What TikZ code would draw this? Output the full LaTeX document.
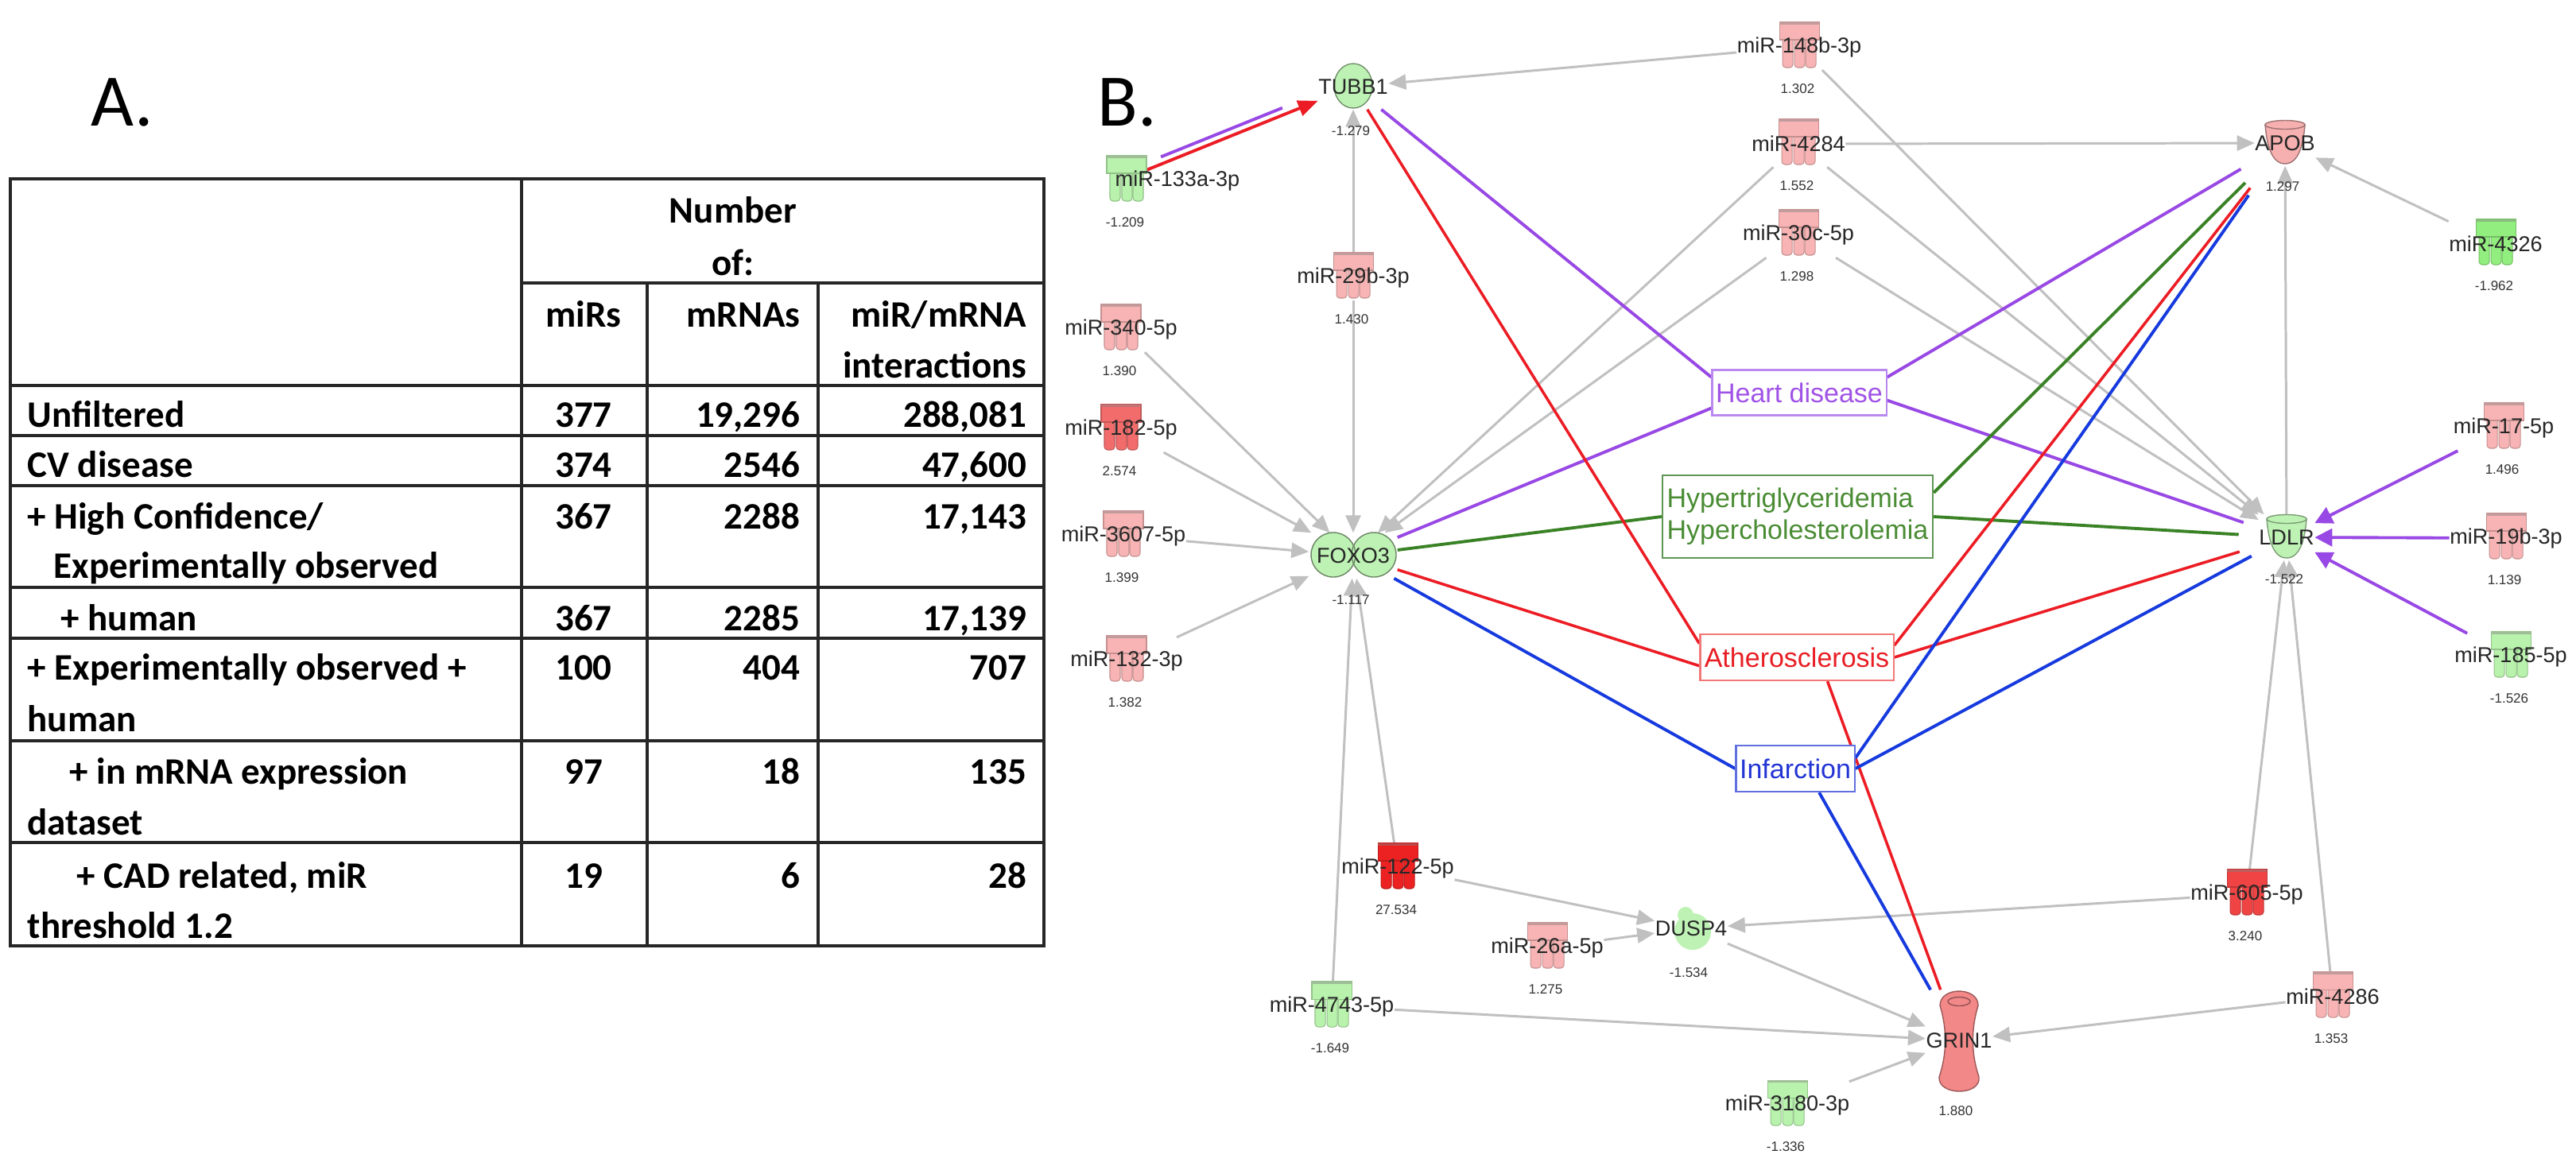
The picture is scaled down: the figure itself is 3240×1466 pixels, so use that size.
\documentclass[tikz,border=0pt]{standalone}
\usepackage{fontspec}
\setmainfont{Carlito}
\newfontfamily\arialf{Liberation Sans}
\usetikzlibrary{arrows.meta,backgrounds,calc}

\definecolor{edgegray}{RGB}{192,192,192}
\definecolor{purp}{RGB}{152,72,228}
\definecolor{grn}{RGB}{58,130,38}
\definecolor{rd}{RGB}{236,28,36}
\definecolor{blu}{RGB}{22,58,222}
\definecolor{pinkL}{RGB}{248,180,180}
\definecolor{redM}{RGB}{242,108,108}
\definecolor{redD}{RGB}{240,68,68}
\definecolor{redB}{RGB}{236,34,34}
\definecolor{greenL}{RGB}{184,242,172}
\definecolor{greenM}{RGB}{146,238,126}
\definecolor{geneG}{RGB}{190,242,180}
\definecolor{geneP}{RGB}{246,176,176}
\definecolor{geneR}{RGB}{242,136,136}
\definecolor{hdB}{RGB}{186,136,238}
\definecolor{hdT}{RGB}{160,82,230}
\definecolor{hyB}{RGB}{96,150,84}
\definecolor{hyT}{RGB}{74,140,52}
\definecolor{atB}{RGB}{242,120,120}
\definecolor{atT}{RGB}{232,30,36}
\definecolor{inB}{RGB}{96,112,222}
\definecolor{inT}{RGB}{34,52,212}

\newcommand\tabf{\fontsize{13.37}{16}\selectfont\bfseries}

\tikzset{
  tline/.style={line width=1.1pt, black!85},
  tl/.style={font=\tabf, inner sep=0pt, anchor=base west},
  tc/.style={font=\tabf, inner sep=0pt, anchor=base},
  tr/.style={font=\tabf, inner sep=0pt, anchor=base east},
  panel/.style={font=\fontsize{26.5}{30}\selectfont, inner sep=0pt, anchor=base west},
  lbl/.style={font=\arialf\fontsize{7.7}{9}\selectfont, text=black!85, inner sep=0pt,
    minimum height=0.57cm, minimum width=0.5cm},
  val/.style={font=\arialf\fontsize{4.84}{6}\selectfont, text=black!80, inner sep=0pt},
  dbox/.style={font=\arialf\fontsize{9.67}{11.4}\selectfont, fill=white, line width=0.6pt,
    inner sep=0pt, align=left},
  gedge/.style={draw=edgegray, line width=0.85pt, -{Triangle[length=0.22cm,width=0.19cm]}},
  purpline/.style={draw=purp, line width=1.1pt},
  grnline/.style={draw=grn, line width=1.1pt},
  redline/.style={draw=rd, line width=1pt},
  bluline/.style={draw=blu, line width=1.1pt},
  parrow/.style={draw=purp, line width=1.1pt, -{Triangle[length=0.22cm,width=0.22cm]}},
  rarrow/.style={draw=rd, line width=1.1pt, -{Triangle[length=0.25cm,width=0.2cm]}},
}

% microRNA icon: x, y, colour
\newcommand\miricon[3]{%
  \foreach \dx in {-21,-6,8}{%
    \filldraw[fill=#3, draw=#3!80!black, line width=0.3pt, rounded corners=0.04cm]
      (#1+\dx,#2-12) -- (#1+\dx,#2+29) -- (#1+\dx+13,#2+29) -- (#1+\dx+13,#2-12);
  }
  \filldraw[fill=#3, draw=#3!80!black, line width=0.3pt] (#1-25,#2-28) rectangle (#1+25,#2-6);
  \fill[#3!55!gray] (#1-25,#2-28) rectangle (#1+25,#2-25);
}
% name, x, y, colour, label, value
\newcommand\mir[6]{%
  \miricon{#2}{#3}{#4}
  \node[lbl] (#1) at (#2,#3+3) {#5};
  \node[val] (v#1) at (#2-2,#3+56) {#6};
}
% cup shaped gene: x, y, colour
\newcommand\cupshape[3]{%
  \filldraw[fill=#3, draw=#3!65!black, line width=0.4pt]
    (#1-25,#2-21) .. controls (#1-23,#2+4) and (#1-17,#2+28) .. (#1,#2+28)
    .. controls (#1+17,#2+28) and (#1+23,#2+4) .. (#1+25,#2-21) -- cycle;
  \filldraw[fill=#3, draw=#3!65!black, line width=0.4pt] (#1,#2-21) ellipse [x radius=0.25cm, y radius=0.055cm];
}

\begin{document}
\begin{tikzpicture}[x=0.01cm,y=-0.01cm]
\useasboundingbox (0,0) rectangle (3240,1466);

% ---------------- Panel A: table ----------------
\node[panel] (pA) at (114,158) {A.};
\draw[tline] (13,225) rectangle (1313,1190);
\draw[tline] (656,225) -- (656,1190);
\draw[tline] (656,356) -- (1313,356);
\draw[tline] (814,356) -- (814,1190);
\draw[tline] (1029,356) -- (1029,1190);
\foreach \yy in {485,548,611,739,803,932,1060} \draw[tline] (13,\yy) -- (1313,\yy);

\node[tc] (hN) at (922,280) {Number};
\node[tc] (hO) at (922,346) {of:};
\node[tc] (hMi) at (734,411) {miRs};
\node[tr] (hMr) at (1007,411) {mRNAs};
\node[tr] (hI1) at (1292,411) {miR/mRNA};
\node[tr] (hI2) at (1292,475) {interactions};

\node[tl] (r1) at (34,537) {Unfiltered};
\node[tl] (r2) at (34,600) {CV disease};
\node[tl] (r3a) at (34,665) {+ High Confidence/};
\node[tl] (r3b) at (67,727) {Experimentally observed};
\node[tl] (r4) at (76,793) {+ human};
\node[tl] (r5a) at (34,855) {+ Experimentally observed +};
\node[tl] (r5b) at (34,920) {human};
\node[tl] (r6a) at (87,986) {+ in mRNA expression};
\node[tl] (r6b) at (34,1050) {dataset};
\node[tl] (r7a) at (96,1117) {+ CAD related, miR};
\node[tl] (r7b) at (34,1180) {threshold 1.2};

\foreach \yy/\a/\b/\c in {537/377/{19,296}/{288,081}, 600/374/2546/{47,600},
   665/367/2288/{17,143}, 793/367/2285/{17,139}, 855/100/404/707,
   986/97/18/135, 1117/19/6/28}{%
  \node[tc] (na\yy) at (734,\yy) {\a};
  \node[tr] (nb\yy) at (1007,\yy) {\b};
  \node[tr] (nc\yy) at (1292,\yy) {\c};
}

% ---------------- Panel B: network ----------------
\node[panel] (pB) at (1380,158) {B.};

% genes
\filldraw[fill=geneG, draw=geneG!60!black, line width=0.4pt] (1702,108) ellipse [x radius=0.24cm, y radius=0.28cm];
\node[lbl, minimum width=0.48cm, minimum height=0.56cm] (tubb1) at (1702,109) {TUBB1};
\node[val] (vtubb1) at (1699,165) {-1.279};

\fill[geneG] (1677,698) ellipse [x radius=0.28cm, y radius=0.28cm];
\fill[geneG] (1728,698) ellipse [x radius=0.28cm, y radius=0.28cm];
\draw[geneG!55!black, line width=0.4pt] (1677,698) ellipse [x radius=0.28cm, y radius=0.28cm];
\draw[geneG!55!black, line width=0.4pt] (1728,698) ellipse [x radius=0.28cm, y radius=0.28cm];
\node[lbl, minimum width=1.1cm, minimum height=0.56cm] (foxo3) at (1702,699) {FOXO3};
\node[val] (vfoxo3) at (1699,755) {-1.117};

\cupshape{2874}{178}{geneP}
\node[lbl, minimum height=0.56cm] (apob) at (2874,180) {APOB};
\node[val] (vapob) at (2871,235) {1.297};

\cupshape{2876}{674}{geneG}
\node[lbl, minimum height=0.56cm] (ldlr) at (2876,676) {LDLR};
\node[val] (vldlr) at (2873,729) {-1.522};

\fill[geneG] (2129,1172) circle (0.23cm);
\fill[geneG] (2120,1151) circle (0.1cm);
\node[lbl, minimum height=0.5cm] (dusp4) at (2127,1168) {DUSP4};
\node[val] (vdusp4) at (2124,1224) {-1.534};

\filldraw[fill=geneR, draw=geneR!65!black, line width=0.4pt]
  (2440,1265) .. controls (2440,1241) and (2488,1241) .. (2488,1265)
  .. controls (2479,1295) and (2479,1325) .. (2489,1355)
  .. controls (2492,1379) and (2437,1379) .. (2439,1355)
  .. controls (2449,1325) and (2449,1295) .. (2440,1265) -- cycle;
\draw[geneR!60!black, line width=0.4pt] (2464,1260) ellipse [x radius=0.14cm, y radius=0.055cm];
\node[lbl, minimum height=1.26cm] (grin1) at (2464,1309) {GRIN1};
\node[val] (vgrin1) at (2460,1398) {1.880};

% microRNAs
\miricon{1417}{224}{greenL}
\node[lbl] (m133) at (1417,224) {};
\node[lbl, anchor=west, minimum height=0pt, minimum width=0pt] (lm133) at (1402,227) {miR-133a-3p};
\node[val] (vm133) at (1415,280) {-1.209};

\mir{m148b}{2263}{56}{pinkL}{miR-148b-3p}{1.302}
\mir{m4284}{2262}{178}{pinkL}{miR-4284}{1.552}
\mir{m30c}{2262}{292}{pinkL}{miR-30c-5p}{1.298}
\mir{m4326}{3139}{304}{greenM}{miR-4326}{-1.962}
\mir{m29b}{1702}{346}{pinkL}{miR-29b-3p}{1.430}
\mir{m340}{1410}{411}{pinkL}{miR-340-5p}{1.390}
\mir{m182}{1410}{537}{redM}{miR-182-5p}{2.574}
\mir{m3607}{1413}{671}{pinkL}{miR-3607-5p}{1.399}
\mir{m132}{1417}{828}{pinkL}{miR-132-3p}{1.382}
\mir{m17}{3149}{535}{pinkL}{miR-17-5p}{1.496}
\mir{m19b}{3152}{674}{pinkL}{miR-19b-3p}{1.139}
\mir{m185}{3158}{823}{greenL}{miR-185-5p}{-1.526}
\mir{m122}{1758}{1089}{redB}{miR-122-5p}{27.534}
\mir{m26a}{1946}{1189}{pinkL}{miR-26a-5p}{1.275}
\mir{m4743}{1675}{1263}{greenL}{miR-4743-5p}{-1.649}
\mir{m3180}{2248}{1387}{greenL}{miR-3180-3p}{-1.336}
\mir{m605}{2826}{1122}{redD}{miR-605-5p}{3.240}
\mir{m4286}{2934}{1251}{pinkL}{miR-4286}{1.353}

% disease boxes
\node[dbox, draw=hdB, text=hdT, minimum width=2.19cm, minimum height=0.57cm] (hd) at (2263,494) {Heart disease};
\node[dbox, draw=hyB, text=hyT, minimum width=3.40cm, minimum height=1.04cm] (hyp) at (2261,650) {Hypertriglyceridemia\\Hypercholesterolemia};
\node[dbox, draw=atB, text=atT, minimum width=2.43cm, minimum height=0.58cm] (ath) at (2260,827) {Atherosclerosis};
\node[dbox, draw=inB, text=inT, minimum width=1.49cm, minimum height=0.58cm] (inf) at (2258,967) {Infarction};

% ---------------- connectors ----------------
\begin{scope}[on background layer]
\fill[white] (0,0) rectangle (3240,1466);
\draw[gedge] (m148b) -- (tubb1);
\draw[gedge] (m29b) -- (tubb1);
\draw[gedge] (m29b) -- (foxo3);
\draw[gedge] (m340) -- (foxo3);
\draw[gedge] (m182) -- (foxo3);
\draw[gedge] (m3607) -- (foxo3);
\draw[gedge] (m132) -- (foxo3);
\draw[gedge] (m4284) -- (foxo3);
\draw[gedge] (m30c) -- (foxo3);
\draw[gedge] (m4284) -- (apob);
\draw[gedge] (m148b) -- (ldlr);
\draw[gedge] (m4284) -- (ldlr);
\draw[gedge] (m30c) -- (ldlr);
\draw[gedge] (m4326) -- (apob);
\draw[gedge] (ldlr) -- (apob);
\draw[gedge] (m605) -- (ldlr);
\draw[gedge] (m4286) -- (ldlr);
\draw[gedge] (m605) -- (dusp4);
\draw[gedge] (m122) -- (dusp4);
\draw[gedge] (m26a) -- (dusp4);
\draw[gedge] (dusp4) -- (grin1);
\draw[gedge] (m4743) -- (grin1);
\draw[gedge] (m3180) -- (grin1);
\draw[gedge] (m4286) -- (grin1);
\draw[gedge] (m4743) -- (foxo3);
\draw[gedge] (m122) -- (foxo3);

\draw[purpline] (tubb1) -- (hd.170);
\draw[purpline] (foxo3) -- (hd.190);
\draw[purpline, shorten <=0.2cm] (apob) -- (hd.10);
\draw[purpline, shorten >=0.2cm] (hd.355) -- (ldlr);
\draw[grnline] (foxo3) -- (hyp.west);
\draw[grnline, shorten >=0.25cm] (hyp.east) -- (ldlr);
\draw[grnline, shorten >=0.3cm] (hyp.10) -- (apob);
\draw[redline] (tubb1) -- (ath.172);
\draw[redline] (foxo3) -- (ath.185);
\draw[redline, shorten >=0.35cm] (ath.7) -- (apob);
\draw[redline, shorten >=0.25cm] (ath.east) -- (ldlr);
\draw[redline] (ath.-38) -- (grin1);
\draw[bluline] (foxo3) -- (inf.west);
\draw[bluline, shorten >=0.45cm] (inf.10) -- (apob);
\draw[bluline, shorten >=0.1cm] (inf.east) -- (ldlr);
\draw[bluline] (inf.-45) -- (grin1);

\draw[parrow] (m17) -- (ldlr);
\draw[parrow] (m19b) -- (ldlr);
\draw[parrow] (m185) -- (ldlr);

\draw[rarrow] (m133) -- (tubb1);
\draw[purpline, shorten <=0.22cm, shorten >=0.45cm, transform canvas={shift={(-3,-8)}}] (m133) -- (tubb1);
\end{scope}
\end{tikzpicture}
\end{document}
